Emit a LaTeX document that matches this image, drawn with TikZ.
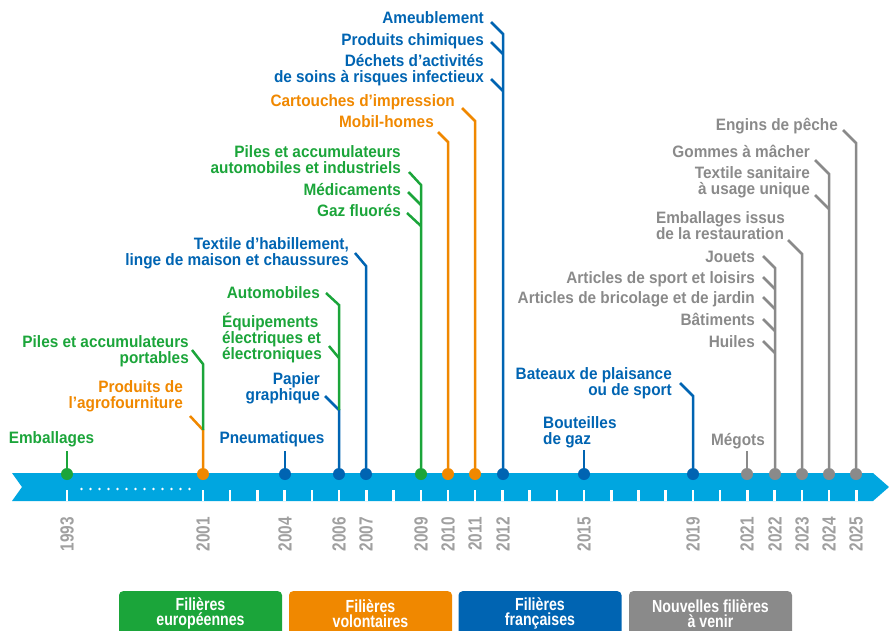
\documentclass[tikz,border=0pt]{standalone}
\usepackage{fontspec}
\setmainfont{Liberation Sans}
\newfontfamily\lblfont[FakeStretch=0.93]{Liberation Sans}
\newfontfamily\cndfont[FakeStretch=0.81]{Liberation Sans}
\usepackage{tikz}
\definecolor{cgreen}{RGB}{27,165,58}
\definecolor{corange}{RGB}{240,136,0}
\definecolor{cblue}{RGB}{0,100,178}
\definecolor{cgray}{RGB}{138,138,138}
\definecolor{cbar}{RGB}{0,166,224}
\definecolor{cyear}{RGB}{160,160,160}

\begin{document}
\begin{tikzpicture}[x=1pt, y=-1pt,
  lbl/.style={font={\lblfont\bfseries\fontsize{16.5}{16}\selectfont}, inner sep=0pt, align=right, anchor=base east},
  grnlbl/.style={lbl, text=cgreen},
  orglbl/.style={lbl, text=corange},
  blulbl/.style={lbl, text=cblue},
  grylbl/.style={lbl, text=cgray},
  grnline/.style={draw=cgreen, line width=2.5pt},
  orgline/.style={draw=corange, line width=2.5pt},
  bluline/.style={draw=cblue, line width=2.5pt},
  gryline/.style={draw=cgray, line width=2.5pt},
  dot/.style={circle, inner sep=0pt, minimum size=12pt},
  year/.style={rotate=90, anchor=east, inner sep=0pt, text=cyear, font={\cndfont\bfseries\fontsize{19}{19}\selectfont}},
  legend/.style={rounded corners=4pt, minimum width=163pt, minimum height=44pt, anchor=north, inner sep=0pt,
    align=center, text=white, font={\cndfont\bfseries\fontsize{17.5}{15}\selectfont}}]
 \useasboundingbox (0,0) rectangle (889,630);

 % time bar
 \fill[cbar] (12,473) -- (873,473) -- (889,487) -- (873,501) -- (12,501) -- (22,487) -- cycle;
 \draw[white, line width=2.5pt] (67,490) -- (67,501);
 \foreach \i in {0,...,24}
   \draw[white, line width=2.5pt] ({203+27.22*\i},490) -- ({203+27.22*\i},501);
 \foreach \i in {0,...,12}
   \fill[white] ({81.5+9*\i},489) circle (1.3);

 % dots
 \node[dot, fill=cgreen]  (d1993) at (67,474)  {};
 \node[dot, fill=corange] (d2001) at (203,474) {};
 \node[dot, fill=cblue]   (d2004) at (285,474) {};
 \node[dot, fill=cblue]   (d2006) at (339,474) {};
 \node[dot, fill=cblue]   (d2007) at (366,474) {};
 \node[dot, fill=cgreen]  (d2009) at (421,474) {};
 \node[dot, fill=corange] (d2010) at (448,474) {};
 \node[dot, fill=corange] (d2011) at (475,474) {};
 \node[dot, fill=cblue]   (d2012) at (503,474) {};
 \node[dot, fill=cblue]   (d2015) at (584,474) {};
 \node[dot, fill=cblue]   (d2019) at (693,474) {};
 \node[dot, fill=cgray]   (d2021) at (747,474) {};
 \node[dot, fill=cgray]   (d2022) at (775,474) {};
 \node[dot, fill=cgray]   (d2023) at (802,474) {};
 \node[dot, fill=cgray]   (d2024) at (829,474) {};
 \node[dot, fill=cgray]   (d2025) at (856,474) {};

 % labels (multi-line ones sit on their last line)
 \node[grnlbl, anchor=base] (emb)   at (51.5,443) {Emballages};
 \node[grnlbl] (piles01) at (189,363) {Piles et accumulateurs\\portables};
 \node[orglbl] (agro)    at (183,408) {Produits de\\l’agrofourniture};
 \node[blulbl, anchor=base] (pneu)  at (272,443) {Pneumatiques};
 \node[grnlbl] (auto)    at (320,298) {Automobiles};
 \node[grnlbl, align=left] (deee) at (322,359) {Équipements\\électriques et\\électroniques};
 \node[blulbl] (papier)  at (320,400) {Papier\\graphique};
 \node[blulbl] (textile) at (349,265) {Textile d’habillement,\\linge de maison et chaussures};
 \node[grnlbl] (piles09) at (401,173) {Piles et accumulateurs\\automobiles et industriels};
 \node[grnlbl] (medic)   at (401,195) {Médicaments};
 \node[grnlbl] (gaz)     at (401,216) {Gaz fluorés};
 \node[orglbl] (mobil)   at (434,127) {Mobil-homes};
 \node[orglbl] (cartou)  at (455,106) {Cartouches d’impression};
 \node[blulbl] (ameub)   at (484,23)  {Ameublement};
 \node[blulbl] (chimie)  at (484,45)  {Produits chimiques};
 \node[blulbl] (dasri)   at (484,82)  {Déchets d’activités\\de soins à risques infectieux};
 \node[blulbl, align=left, anchor=base west] (bouteil) at (543,444) {Bouteilles\\de gaz};
 \node[blulbl] (bateaux) at (672,395) {Bateaux de plaisance\\ou de sport};
 \node[grylbl, anchor=base] (megots) at (738,445) {Mégots};
 \node[grylbl] (jouets)  at (755,262) {Jouets};
 \node[grylbl] (sport)   at (755,283) {Articles de sport et loisirs};
 \node[grylbl] (brico)   at (755,303) {Articles de bricolage et de jardin};
 \node[grylbl] (batim)   at (755,325) {Bâtiments};
 \node[grylbl] (huiles)  at (755,347) {Huiles};
 \node[grylbl, align=left] (restau) at (785,239) {Emballages issus\\de la restauration};
 \node[grylbl] (gommes)  at (810,157) {Gommes à mâcher};
 \node[grylbl] (tss)     at (810,194) {Textile sanitaire\\à usage unique};
 \node[grylbl] (engins)  at (838,130) {Engins de pêche};

 % stems and knees
 \coordinate (s1993) at (67,451);
 \coordinate (s2004) at (285,451);
 \coordinate (s2015) at (584,450);
 \coordinate (s2021) at (747,451);
 \coordinate (k2001o) at (203,430);
 \coordinate (k2001g) at (203,364);
 \coordinate (k2006b) at (339,410);
 \coordinate (k2006g) at (339,305);
 \coordinate (b2006)  at (339,358);
 \coordinate (k2007) at (366,266);
 \coordinate (k2009) at (421,185);
 \coordinate (b2009a) at (421,205);
 \coordinate (b2009b) at (421,226);
 \coordinate (k2010) at (448,142);
 \coordinate (k2011) at (475,121);
 \coordinate (k2012) at (503,34);
 \coordinate (b2012a) at (503,54);
 \coordinate (b2012b) at (503,91);
 \coordinate (k2019) at (693,396);
 \coordinate (k2022) at (775,268);
 \coordinate (b2022a) at (775,289);
 \coordinate (b2022b) at (775,309);
 \coordinate (b2022c) at (775,331);
 \coordinate (b2022d) at (775,353);
 \coordinate (k2023) at (802,254);
 \coordinate (k2024) at (829,174);
 \coordinate (b2024) at (829,209);
 \coordinate (k2025) at (856,143);

 % connectors
 \draw[grnline] (d1993) -- (s1993);
 \draw[bluline] (d2004) -- (s2004);
 \draw[bluline] (d2015) -- (s2015);
 \draw[gryline] (d2021) -- (s2021);
 \draw[orgline] (d2001) -- (k2001o) -- ([shift={(7,8)}]agro.base east);
 \draw[grnline] (k2001o) -- (k2001g) -- ([shift={(3,-13)}]piles01.base east);
 \draw[bluline] (d2006) -- (k2006b) -- ([shift={(5,-4)}]papier.base east);
 \draw[grnline] (k2006b) -- (k2006g) -- ([shift={(6,-5)}]auto.base east);
 \draw[grnline] ([shift={(7,-13)}]deee.base east) -- (b2006);
 \draw[bluline] (d2007) -- (k2007) -- ([shift={(6,-12)}]textile.base east);
 \draw[grnline] (d2009) -- (k2009) -- ([shift={(8,-1)}]piles09.base east);
 \draw[grnline] ([shift={(7,-3)}]medic.base east) -- (b2009a);
 \draw[grnline] ([shift={(6,-3)}]gaz.base east) -- (b2009b);
 \draw[orgline] (d2010) -- (k2010) -- ([shift={(4,5)}]mobil.base east);
 \draw[orgline] (d2011) -- (k2011) -- ([shift={(7,2)}]cartou.base east);
 \draw[bluline] (d2012) -- (k2012) -- ([shift={(7,-1)}]ameub.base east);
 \draw[bluline] ([shift={(7,-3)}]chimie.base east) -- (b2012a);
 \draw[bluline] ([shift={(7,-3)}]dasri.base east) -- (b2012b);
 \draw[bluline] (d2019) -- (k2019) -- ([shift={(8,-12)}]bateaux.base east);
 \draw[gryline] (d2022) -- (k2022) -- ([shift={(8,-6)}]jouets.base east);
 \draw[gryline] ([shift={(8,-6)}]sport.base east) -- (b2022a);
 \draw[gryline] ([shift={(8,-6)}]brico.base east) -- (b2022b);
 \draw[gryline] ([shift={(8,-6)}]batim.base east) -- (b2022c);
 \draw[gryline] ([shift={(8,-6)}]huiles.base east) -- (b2022d);
 \draw[gryline] (d2023) -- (k2023) -- ([shift={(3,1)}]restau.base east);
 \draw[gryline] (d2024) -- (k2024) -- ([shift={(5,3)}]gommes.base east);
 \draw[gryline] ([shift={(5,1)}]tss.base east) -- (b2024);
 \draw[gryline] (d2025) -- (k2025) -- ([shift={(5,0)}]engins.base east);

 % years
 \foreach \yr/\x in {1993/67, 2001/203, 2004/285, 2006/339, 2007/366, 2009/421, 2010/448, 2011/475,
   2012/503, 2015/584, 2019/693, 2021/747, 2022/775, 2023/802, 2024/829, 2025/856}
   \node[year] (y\yr) at (\x,517) {\yr};

 % legend
 \node[legend, fill=cgreen]  (leg1) at (200.5,591) {Filières\\européennes};
 \node[legend, fill=corange] (leg2) at (370.5,591) {Filières\\volontaires};
 \node[legend, fill=cblue]   (leg3) at (540,591)   {Filières\\françaises};
 \node[legend, fill=cgray]   (leg4) at (710.5,591) {Nouvelles filières\\à venir};
\end{tikzpicture}
\end{document}
